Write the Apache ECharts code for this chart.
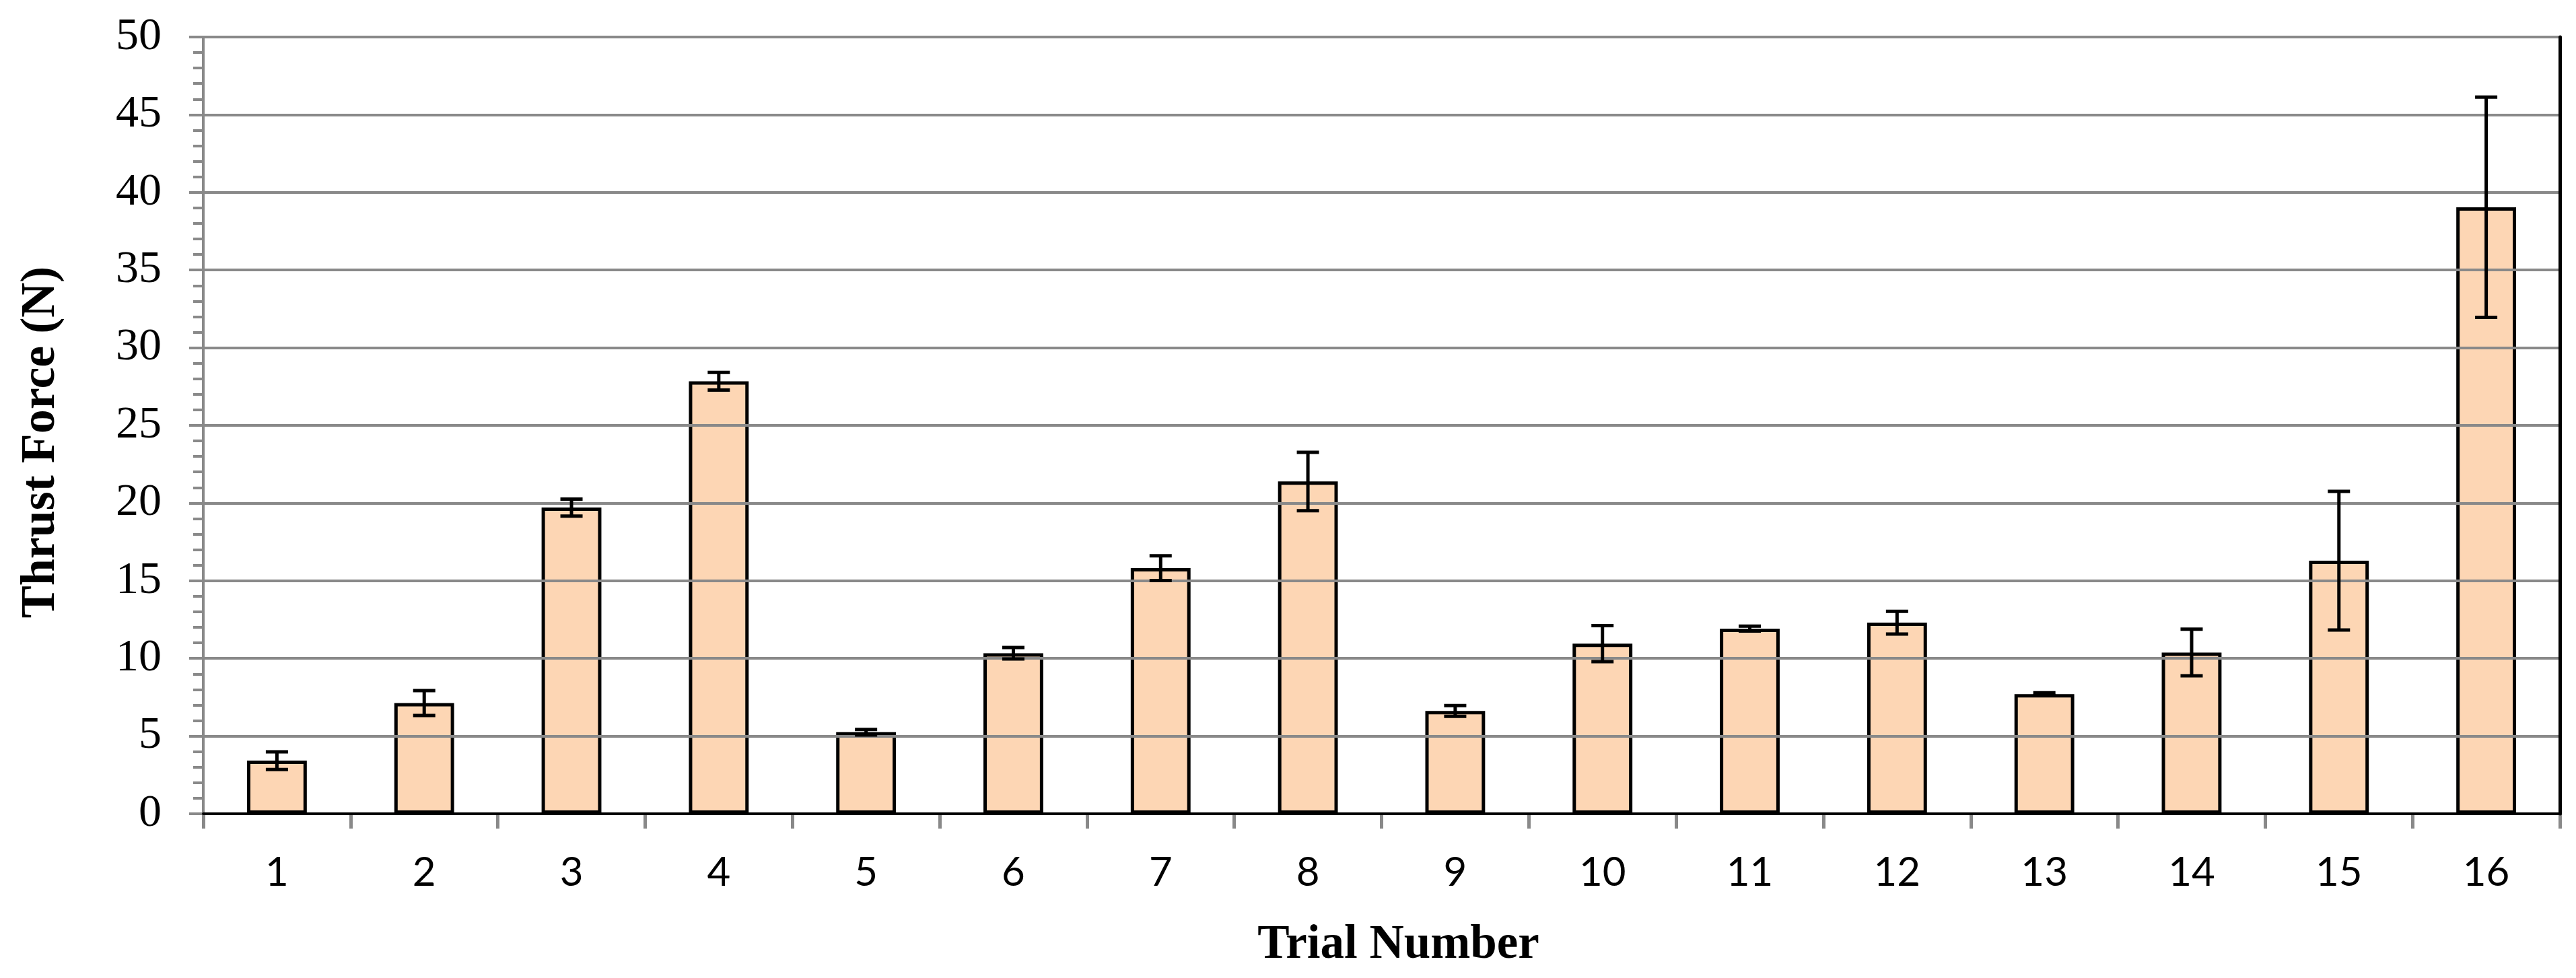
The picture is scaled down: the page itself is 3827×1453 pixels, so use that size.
<!DOCTYPE html>
<html>
<head>
<meta charset="utf-8">
<script src="https://cdn.jsdelivr.net/npm/echarts@6/dist/echarts.min.js"></script>
<style>
html,body{margin:0;padding:0;background:#fff;}
#chart{width:3827px;height:1453px;}
</style>
</head>
<body>
<div id="chart"></div>
<script>
const categories = ['1','2','3','4','5','6','7','8','9','10','11','12','13','14','15','16'];
const thrustForce = [3.42, 7.13, 19.71, 27.84, 5.25, 10.33, 15.81, 21.39, 6.62, 10.95, 11.92, 12.30, 7.70, 10.38, 16.29, 39.04];
const thrustError = [0.57, 0.80, 0.55, 0.57, 0.18, 0.37, 0.80, 1.88, 0.35, 1.16, 0.16, 0.73, 0.09, 1.50, 4.46, 7.09];
const yTicks = [0, 5, 10, 15, 20, 25, 30, 35, 40, 45, 50];

const GRAY = '#898989';
const errData = categories.map((c, i) => [i, thrustForce[i] - thrustError[i], thrustForce[i] + thrustError[i]]);

const chart = echarts.init(document.getElementById('chart'), null, {renderer: 'canvas'});
chart.setOption({
  animation: false,
  backgroundColor: '#ffffff',
  grid: {left: 302, right: 24, top: 55, bottom: 244, containLabel: false},
  xAxis: [{
    type: 'category',
    data: categories,
    position: 'bottom',
    boundaryGap: true,
    name: 'Trial Number',
    nameLocation: 'middle',
    nameGap: 160,
    nameTextStyle: {fontFamily: '"Liberation Serif", "Times New Roman", serif', fontWeight: 'bold', fontSize: 71, color: '#000', padding: [0, 0, 0, 50]},
    axisLine: {show: true, lineStyle: {color: GRAY, width: 4}},
    axisTick: {show: true, length: 22, lineStyle: {color: GRAY, width: 5}},
    axisLabel: {margin: 58, fontFamily: 'Lato', fontSize: 60, color: '#000'},
    splitLine: {show: false},
    z: 3
  }, {
    type: 'category',
    data: categories,
    position: 'top',
    axisLine: {show: true, lineStyle: {color: '#000', width: 4}},
    axisTick: {show: false},
    axisLabel: {show: false},
    splitLine: {show: false},
    z: 5
  }],
  yAxis: [{
    type: 'value',
    min: 0,
    max: 50,
    interval: 5,
    name: 'Thrust Force (N)',
    nameLocation: 'middle',
    nameGap: 205,
    nameRotate: 90,
    nameTextStyle: {fontFamily: '"Liberation Serif", "Times New Roman", serif', fontWeight: 'bold', fontSize: 72, color: '#000', padding: [0, 50, 0, 0]},
    axisLine: {show: true, lineStyle: {color: GRAY, width: 4}},
    axisTick: {show: true, length: 21, lineStyle: {color: GRAY, width: 4}},
    minorTick: {show: true, splitNumber: 5, length: 15, lineStyle: {color: GRAY, width: 4}},
    axisLabel: {margin: 62, fontFamily: '"Liberation Serif", "Times New Roman", serif', fontSize: 68, color: '#000',
      formatter: v => yTicks.includes(v) ? String(v) : ''},
    splitLine: {show: true, lineStyle: {color: GRAY, width: 4}},
    z: 3
  }, {
    type: 'value',
    min: 0,
    max: 50,
    interval: 5,
    position: 'right',
    axisLine: {show: true, lineStyle: {color: '#000', width: 5}},
    axisTick: {show: false},
    axisLabel: {show: false},
    splitLine: {show: false},
    z: 5
  }],
  series: [{
    type: 'bar',
    name: 'Thrust Force',
    data: thrustForce,
    barWidth: '40.6%',
    itemStyle: {color: '#FDD6B4', borderColor: '#000', borderWidth: 5},
    z: 2
  }, {
    type: 'custom',
    name: 'Error',
    data: errData,
    z: 10,
    renderItem: function (params, api) {
      const x = api.value(0);
      const lo = api.coord([x, api.value(1)]);
      const hi = api.coord([x, api.value(2)]);
      const half = 16.5;
      const st = {stroke: '#000', lineWidth: 5};
      return {
        type: 'group',
        children: [
          {type: 'line', shape: {x1: hi[0], y1: hi[1], x2: lo[0], y2: lo[1]}, style: st},
          {type: 'line', shape: {x1: hi[0] - half, y1: hi[1], x2: hi[0] + half, y2: hi[1]}, style: st},
          {type: 'line', shape: {x1: lo[0] - half, y1: lo[1], x2: lo[0] + half, y2: lo[1]}, style: st}
        ]
      };
    }
  }]
});
</script>
</body>
</html>
